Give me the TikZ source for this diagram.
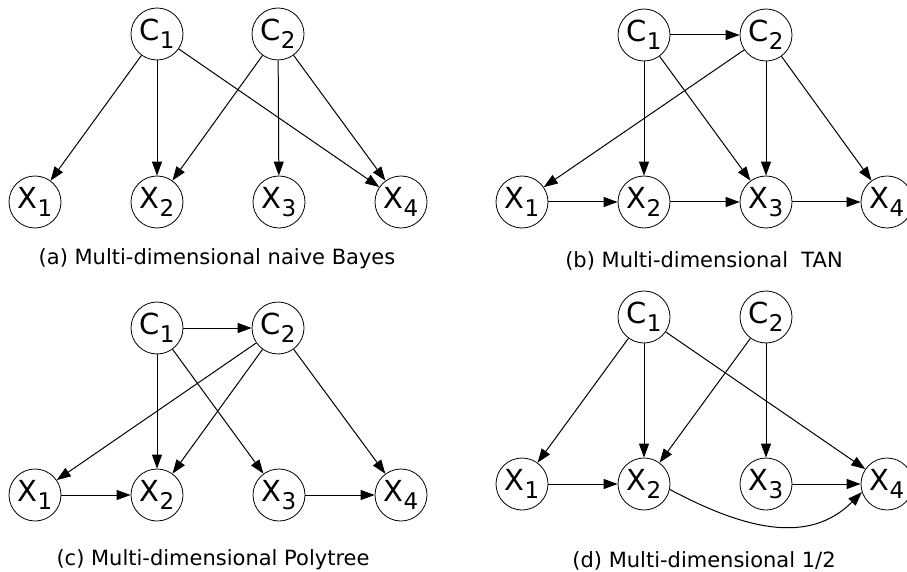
\documentclass[tikz,border=0pt]{standalone}
\usepackage{fontspec}
\setmainfont{DejaVu Sans}
\usetikzlibrary{arrows.meta}
\newcommand{\nlab}[2]{{\fontsize{29}{29}\selectfont #1}\raisebox{-8pt}{\fontsize{23}{23}\selectfont #2}}
\tikzset{
  vnode/.style={circle,draw,line width=0.8pt,minimum size=52pt,inner sep=0pt},
  edge/.style={line width=1pt,-{Triangle[length=14pt,width=10pt]}},
  capt/.style={font=\fontsize{21}{21}\selectfont,inner sep=0pt,anchor=base}
}
\begin{document}
\begin{tikzpicture}[x=1pt,y=-1pt]
\useasboundingbox (0,0) rectangle (907,572);
% (a)
\node[vnode] (aC1) at (157,34) {\nlab{C}{1}};
\node[vnode] (aC2) at (278,34) {\nlab{C}{2}};
\node[vnode] (aX1) at (35,202) {\nlab{X}{1}};
\node[vnode] (aX2) at (157,202) {\nlab{X}{2}};
\node[vnode] (aX3) at (279,202) {\nlab{X}{3}};
\node[vnode] (aX4) at (401,202) {\nlab{X}{4}};
\node[capt] (acap) at (217,264) {(a) Multi-dimensional naive Bayes};
\draw[edge] (aC1) -- (aX1);
\draw[edge] (aC1) -- (aX2);
\draw[edge] (aC1) -- (aX4);
\draw[edge] (aC2) -- (aX2);
\draw[edge] (aC2) -- (aX3);
\draw[edge] (aC2) -- (aX4);
% (b)
\node[vnode] (bC1) at (644,35) {\nlab{C}{1}};
\node[vnode] (bC2) at (766,35) {\nlab{C}{2}};
\node[vnode] (bX1) at (522,202) {\nlab{X}{1}};
\node[vnode] (bX2) at (644,202) {\nlab{X}{2}};
\node[vnode] (bX3) at (766,202) {\nlab{X}{3}};
\node[vnode] (bX4) at (887,202) {\nlab{X}{4}};
\node[capt] (bcap) at (704,267) {(b) Multi-dimensional\ \ TAN};
\draw[edge] (bC1) -- (bC2);
\draw[edge] (bC1) -- (bX2);
\draw[edge] (bC1) -- (bX3);
\draw[edge] (bC2) -- (bX1);
\draw[edge] (bC2) -- (bX3);
\draw[edge] (bC2) -- (bX4);
\draw[edge] (bX1) -- (bX2);
\draw[edge] (bX2) -- (bX3);
\draw[edge] (bX3) -- (bX4);
% (c)
\node[vnode] (cC1) at (157,328) {\nlab{C}{1}};
\node[vnode] (cC2) at (278,328) {\nlab{C}{2}};
\node[vnode] (cX1) at (35,495) {\nlab{X}{1}};
\node[vnode] (cX2) at (157,495) {\nlab{X}{2}};
\node[vnode] (cX3) at (279,495) {\nlab{X}{3}};
\node[vnode] (cX4) at (401,495) {\nlab{X}{4}};
\node[capt] (ccap) at (213,565) {(c) Multi-dimensional Polytree};
\draw[edge] (cC1) -- (cC2);
\draw[edge] (cC1) -- (cX2);
\draw[edge] (cC1) -- (cX3);
\draw[edge] (cC2) -- (cX1);
\draw[edge] (cC2) -- (cX2);
\draw[edge] (cC2) -- (cX4);
\draw[edge] (cX1) -- (cX2);
\draw[edge] (cX3) -- (cX4);
% (d)
\node[vnode] (dC1) at (644,317) {\nlab{C}{1}};
\node[vnode] (dC2) at (766,317) {\nlab{C}{2}};
\node[vnode] (dX1) at (522,484) {\nlab{X}{1}};
\node[vnode] (dX2) at (644,484) {\nlab{X}{2}};
\node[vnode] (dX3) at (766,484) {\nlab{X}{3}};
\node[vnode] (dX4) at (887,484) {\nlab{X}{4}};
\node[capt] (dcap) at (704,567) {(d) Multi-dimensional 1/2};
\draw[edge] (dC1) -- (dX1);
\draw[edge] (dC1) -- (dX2);
\draw[edge] (dC1) -- (dX4);
\draw[edge] (dC2) -- (dX2);
\draw[edge] (dC2) -- (dX3);
\draw[edge] (dX1) -- (dX2);
\draw[edge] (dX3) -- (dX4);
\draw[edge] (dX2.-12) .. controls +(28:85) and +(135:75) .. (dX4.-162);
\end{tikzpicture}
\end{document}
